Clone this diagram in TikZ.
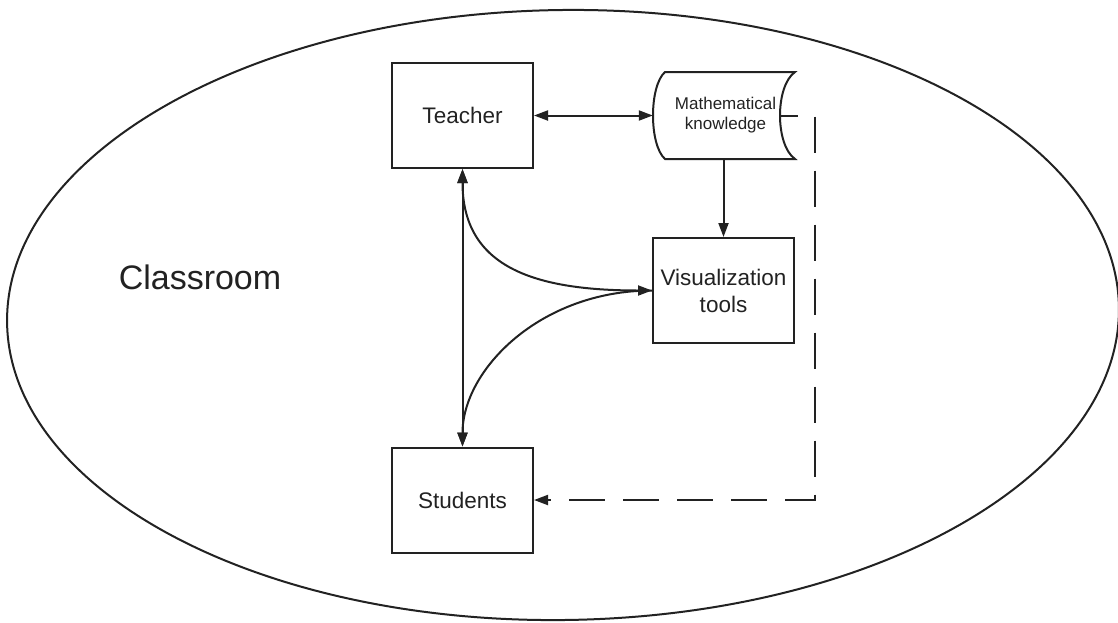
\documentclass[tikz,border=0pt]{standalone}
\usepackage{fontspec}
\setmainfont{Liberation Sans}
\usetikzlibrary{arrows.meta}
\definecolor{ink}{HTML}{222222}
\begin{document}
\begin{tikzpicture}[x=1pt,y=-1pt,
  line/.style={draw=ink,line width=2pt},
  tip/.style={-{Triangle[length=14pt,width=10pt]}},
  dtip/.style={{Triangle[length=14pt,width=10pt]}-{Triangle[length=14pt,width=10pt]}},
  box/.style={line,rectangle,minimum width=141pt,minimum height=105pt,inner sep=0pt,
    align=center,text=ink,font=\fontsize{22.5}{27}\selectfont},
  store/.style={rectangle,minimum width=145pt,minimum height=87pt,inner sep=0pt,
    align=center,text=ink,font=\fontsize{17}{20}\selectfont}]
\useasboundingbox (0,0) rectangle (1118,622);
% classroom ellipse
\draw[line,rotate around={0.8:(563,315)}] (563,315) ellipse [x radius=556, y radius=305];
\node[text=ink,font=\fontsize{34}{40}\selectfont] (room) at (200,277) {Classroom};
% nodes
\node[box] (teacher) at (462.5,115.5) {Teacher};
\node[box] (students) at (462.5,500) {Students};
\node[box] (viz) at (723.5,290.5) {Visualization\\tools};
\node[store] (math) at (725.5,115.5) {Mathematical\\knowledge};
% stored-data outline
\draw[line] (665,72) -- (795,72)
  .. controls (775,86) and (775,145) .. (795,159) -- (665,159)
  .. controls (649,145) and (649,86) .. (665,72) -- cycle;
\coordinate (mr) at (780,115.5);
\coordinate (c1) at (815,115.5);
\coordinate (c2) at (815,500);
% connectors
\draw[line,dtip] (teacher.east) -- (math.west);
\draw[line,tip] (viz.north |- math.south) -- (viz.north);
\draw[line,dtip] (teacher.south) -- (students.north);
\draw[line,dtip] (teacher.south) .. controls (462.5,265) and (530,290.5) .. (viz.west);
\draw[line,tip] (viz.west) .. controls (540,290.5) and (462.5,370) .. (students.north);
\draw[line,tip,dash pattern=on 36pt off 18pt,dash phase=18pt] (mr) -- (c1) -- (c2) -- (students.east);
\end{tikzpicture}
\end{document}
